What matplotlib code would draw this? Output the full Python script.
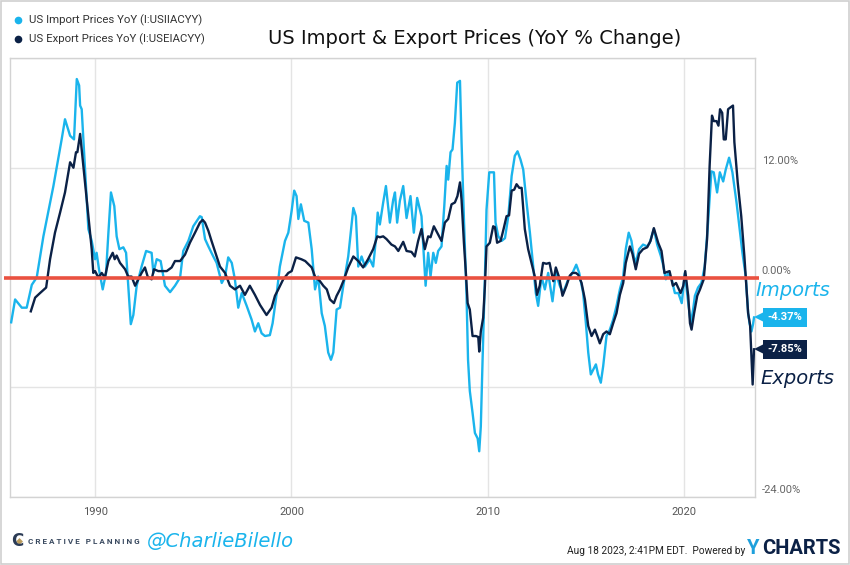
import matplotlib
matplotlib.use("Agg")
import matplotlib.pyplot as plt
import matplotlib.transforms as mtransforms
from matplotlib.patches import Rectangle
from matplotlib.lines import Line2D

# ---------------- data (decimal year, YoY %) ----------------
import_dates = [1985.73, 1985.93, 1986.27, 1986.52, 1986.78, 1987.03, 1987.37, 1987.88, 1988.30, 1988.47,
                1988.73, 1988.93, 1989.07, 1989.19, 1989.24, 1989.32, 1989.49, 1989.66, 1989.83, 1990.00,
                1990.08, 1990.20, 1990.39, 1990.56, 1990.68, 1990.81, 1990.98, 1991.10, 1991.24, 1991.44,
                1991.58, 1991.69, 1991.82, 1991.95, 1992.12, 1992.37, 1992.60, 1992.88, 1992.97, 1993.14,
                1993.34, 1993.56, 1993.82, 1994.07, 1994.33, 1994.49, 1994.75, 1995.00, 1995.34, 1995.43,
                1995.60, 1995.77, 1996.02, 1996.19, 1996.45, 1996.62, 1996.78, 1996.96, 1997.12, 1997.29,
                1997.47, 1997.72, 1997.97, 1998.14, 1998.31, 1998.48, 1998.65, 1998.90, 1999.04, 1999.25,
                1999.41, 1999.67, 1999.84, 2000.01, 2000.14, 2000.26, 2000.35, 2000.48, 2000.65, 2000.86,
                2001.03, 2001.20, 2001.36, 2001.54, 2001.70, 2001.87, 2002.01, 2002.13, 2002.30, 2002.47,
                2002.64, 2002.89, 2003.15, 2003.28, 2003.40, 2003.57, 2003.74, 2003.99, 2004.16, 2004.30,
                2004.39, 2004.50, 2004.67, 2004.81, 2005.01, 2005.18, 2005.27, 2005.38, 2005.52, 2005.69,
                2005.86, 2006.06, 2006.23, 2006.40, 2006.62, 2006.71, 2006.83, 2006.96, 2007.08, 2007.22,
                2007.35, 2007.47, 2007.64, 2007.78, 2007.90, 2007.98, 2008.10, 2008.20, 2008.32, 2008.44,
                2008.58, 2008.66, 2008.78, 2008.91, 2008.99, 2009.08, 2009.22, 2009.34, 2009.48, 2009.56,
                2009.64, 2009.73, 2009.85, 2009.93, 2010.07, 2010.31, 2010.39, 2010.53, 2010.70, 2010.87,
                2011.04, 2011.21, 2011.37, 2011.51, 2011.66, 2011.80, 2011.97, 2012.14, 2012.31, 2012.44,
                2012.56, 2012.73, 2012.90, 2013.07, 2013.29, 2013.46, 2013.66, 2013.83, 2014.09, 2014.31,
                2014.50, 2014.65, 2014.85, 2014.99, 2015.11, 2015.24, 2015.36, 2015.50, 2015.61, 2015.75,
                2015.87, 2016.04, 2016.21, 2016.38, 2016.55, 2016.72, 2016.89, 2017.02, 2017.17, 2017.31,
                2017.43, 2017.53, 2017.70, 2017.90, 2018.11, 2018.24, 2018.45, 2018.62, 2018.80, 2018.90,
                2019.06, 2019.18, 2019.36, 2019.52, 2019.70, 2019.87, 2020.03, 2020.20, 2020.33, 2020.45,
                2020.54, 2020.70, 2020.87, 2021.04, 2021.21, 2021.38, 2021.50, 2021.67, 2021.81, 2021.98,
                2022.11, 2022.28, 2022.45, 2022.66, 2022.82, 2022.96, 2023.13, 2023.25, 2023.33, 2023.42,
                2023.50, 2023.55]
import_values = [-4.9, -2.4, -3.3, -3.3, -0.8, 0.0, 4.5, 10.0, 15.1, 17.3,
                 15.5, 15.1, 21.7, 21.0, 18.8, 18.4, 11.8, 5.3, 4.0, 2.0,
                 2.7, 0.9, -1.3, 0.5, 4.9, 9.3, 7.8, 4.5, 3.1, 3.3,
                 2.7, -0.9, -5.1, -4.1, -0.9, 1.2, 2.9, 2.7, 0.5, 2.0,
                 1.8, -0.9, -1.6, -0.9, 0.0, 2.9, 4.0, 5.6, 6.7, 6.6,
                 4.2, 3.4, 2.3, 1.6, -0.6, 0.1, 2.2, 1.6, -0.2, -3.3,
                 -1.7, -3.1, -4.6, -5.9, -5.0, -6.1, -6.4, -6.3, -5.0, -1.7,
                 1.2, 4.0, 4.9, 7.3, 9.5, 8.9, 6.4, 8.0, 6.2, 6.0,
                 3.1, -1.3, 0.1, -3.9, -5.3, -8.2, -9.0, -8.2, -3.5, -3.3,
                 -0.9, 2.3, 7.6, 6.7, 1.2, 2.3, 1.2, 2.0, 1.2, 4.2,
                 7.1, 5.8, 8.2, 10.0, 6.0, 8.5, 9.3, 6.0, 8.4, 10.0,
                 6.5, 8.9, 4.9, 8.7, 6.7, 3.4, -0.9, 2.7, 0.1, 2.7,
                 1.6, 2.9, 3.4, 7.8, 12.2, 10.7, 13.7, 14.0, 16.9, 21.3,
                 21.5, 14.8, 6.4, -1.7, -9.0, -12.4, -14.8, -17.0, -17.6, -19.0,
                 -16.3, -9.0, 0.1, 7.4, 11.5, 11.5, 6.0, 4.5, 4.0, 4.3,
                 6.7, 11.1, 13.3, 13.8, 12.9, 11.8, 8.2, 4.9, 1.2, -1.7,
                 -3.1, 0.1, -1.3, 0.5, -2.6, 0.5, -0.9, -1.7, -0.2, 0.5,
                 1.4, 0.5, -1.7, -5.0, -8.2, -10.6, -10.1, -9.5, -10.6, -11.5,
                 -9.7, -6.4, -5.7, -4.6, -3.1, -1.3, 0.1, 3.1, 4.9, 4.0,
                 2.3, 1.6, 3.1, 3.6, 3.4, 3.8, 5.3, 3.6, 2.4, 1.6,
                 -0.2, 0.5, -0.2, -1.7, -1.7, -2.8, 0.5, -2.8, -5.0, -3.5,
                 -2.0, -1.1, -0.6, 1.2, 6.0, 11.6, 11.5, 9.3, 11.5, 10.5,
                 11.8, 13.1, 11.5, 8.2, 5.3, 2.7, 0.1, -3.9, -5.1, -5.9,
                 -5.1, -4.37]

export_dates = [1986.73, 1986.95, 1987.20, 1987.51, 1987.71, 1987.96, 1988.22, 1988.47, 1988.73, 1988.90,
                1989.03, 1989.10, 1989.24, 1989.32, 1989.49, 1989.66, 1989.83, 1989.91, 1990.00, 1990.17,
                1990.34, 1990.50, 1990.68, 1990.90, 1991.00, 1991.10, 1991.27, 1991.53, 1991.69, 1991.86,
                1992.04, 1992.20, 1992.37, 1992.54, 1992.68, 1992.88, 1993.00, 1993.22, 1993.65, 1993.90,
                1994.07, 1994.33, 1994.58, 1994.83, 1995.09, 1995.34, 1995.48, 1995.60, 1995.77, 1995.93,
                1996.10, 1996.36, 1996.62, 1996.87, 1997.12, 1997.38, 1997.63, 1997.88, 1998.14, 1998.40,
                1998.73, 1998.99, 1999.16, 1999.33, 1999.58, 1999.84, 2000.01, 2000.23, 2000.50, 2000.70,
                2001.03, 2001.20, 2001.45, 2001.62, 2001.80, 2001.96, 2002.16, 2002.30, 2002.47, 2002.64,
                2002.89, 2003.15, 2003.40, 2003.65, 2003.90, 2004.16, 2004.37, 2004.50, 2004.67, 2004.84,
                2005.09, 2005.27, 2005.44, 2005.69, 2005.86, 2006.11, 2006.28, 2006.45, 2006.62, 2006.79,
                2006.96, 2007.08, 2007.25, 2007.42, 2007.64, 2007.81, 2007.98, 2008.15, 2008.32, 2008.45,
                2008.58, 2008.66, 2008.78, 2008.88, 2008.97, 2009.08, 2009.22, 2009.39, 2009.51, 2009.56,
                2009.64, 2009.76, 2009.85, 2009.93, 2010.10, 2010.27, 2010.36, 2010.47, 2010.65, 2010.81,
                2010.95, 2011.08, 2011.21, 2011.34, 2011.46, 2011.60, 2011.72, 2011.88, 2012.05, 2012.22,
                2012.39, 2012.50, 2012.64, 2012.81, 2012.98, 2013.14, 2013.33, 2013.46, 2013.63, 2013.80,
                2014.00, 2014.17, 2014.30, 2014.48, 2014.60, 2014.77, 2014.94, 2015.11, 2015.28, 2015.45,
                2015.57, 2015.70, 2015.87, 2016.04, 2016.21, 2016.38, 2016.55, 2016.72, 2016.89, 2017.02,
                2017.23, 2017.36, 2017.53, 2017.70, 2017.90, 2018.11, 2018.28, 2018.45, 2018.67, 2018.84,
                2018.99, 2019.25, 2019.42, 2019.58, 2019.81, 2019.95, 2020.05, 2020.20, 2020.29, 2020.37,
                2020.50, 2020.66, 2020.80, 2020.99, 2021.16, 2021.29, 2021.41, 2021.50, 2021.64, 2021.74,
                2021.82, 2021.93, 2022.01, 2022.11, 2022.23, 2022.35, 2022.48, 2022.55, 2022.72, 2022.90,
                2023.06, 2023.16, 2023.25, 2023.35, 2023.42, 2023.48, 2023.55]
export_values = [-3.7, -2.2, -1.7, -1.1, 2.0, 4.9, 7.1, 9.3, 12.6, 12.0,
                 13.7, 13.7, 15.7, 14.0, 10.4, 6.7, 3.1, 0.5, 0.7, 0.0,
                 0.5, 0.0, 1.8, 2.7, 2.0, 2.4, 1.6, 0.9, 0.1, 0.1,
                 -0.9, -0.2, 0.5, 1.1, 0.1, -0.2, 0.9, 0.7, 0.7, 1.1,
                 1.8, 1.8, 2.5, 3.8, 4.9, 6.0, 6.3, 6.0, 5.1, 4.0,
                 2.9, 1.2, 0.5, -0.9, -1.3, -0.9, -1.9, -0.9, -1.9, -3.0,
                 -4.1, -3.3, -2.0, -1.3, -0.2, 0.5, 0.7, 2.2, 2.0, 1.8,
                 1.1, 0.1, -0.4, -0.9, -1.3, -2.4, -2.8, -2.0, -1.3, -0.4,
                 1.1, 2.3, 1.8, 1.1, 2.0, 3.1, 4.5, 4.4, 4.5, 4.2,
                 3.6, 3.4, 2.9, 3.9, 2.9, 2.8, 2.3, 4.0, 5.3, 3.1,
                 4.5, 4.4, 5.6, 4.9, 4.0, 6.0, 6.4, 8.0, 8.2, 8.9,
                 10.4, 8.5, 3.8, 0.5, -2.8, -3.5, -6.4, -6.4, -6.5, -8.1,
                 -5.9, -4.4, -0.9, 3.4, 3.8, 5.6, 5.5, 3.8, 4.0, 5.4,
                 6.7, 6.8, 9.5, 9.6, 10.2, 9.8, 9.8, 5.3, 3.1, 1.6,
                 0.1, -1.9, -0.9, 1.6, 1.5, 1.6, -0.4, 1.1, 0.0, -2.0,
                 -0.9, 0.2, 0.5, 0.5, 0.3, -0.6, -2.4, -5.3, -6.4, -5.7,
                 -6.4, -7.2, -6.2, -5.9, -6.2, -5.0, -3.9, -1.9, -0.6, 1.6,
                 3.4, 2.6, 0.9, 2.6, 3.1, 3.3, 4.0, 5.4, 3.8, 2.9,
                 0.5, 0.7, -0.9, -0.6, -1.7, -0.9, 0.7, -2.0, -5.0, -5.7,
                 -3.9, -2.0, -1.3, -0.2, 4.2, 12.2, 17.7, 17.1, 17.1, 16.6,
                 18.4, 18.0, 15.1, 15.1, 18.4, 18.6, 18.8, 14.8, 10.4, 6.7,
                 2.3, -1.0, -3.9, -5.2, -8.6, -11.7, -7.85]

series_names = ["US Import Prices YoY (I:USIIACYY)", "US Export Prices YoY (I:USEIACYY)"]
x_ticks = [1990, 2000, 2010, 2020]
y_ticks = [-24, -12, 0, 12, 24]
y_tick_labels = ["-24.00%", "", "0.00%", "12.00%", ""]
last_import = import_values[-1]
last_export = export_values[-1]

# ---------------- style ----------------
C_IMP = "#1ab4ec"
C_EXP = "#0b2146"
C_RED = "#ea5140"
FONT = "Roboto"

fig = plt.figure(figsize=(8.5, 5.65), dpi=100)
fig.patch.set_facecolor("white")
fig.patches.append(Rectangle((0.0008, 0.001), 0.998, 0.997, transform=fig.transFigure,
                             fill=False, edgecolor="#cfcfcf", lw=1.2))

ax = fig.add_axes([10/850, 68/565, 745/850, 439/565])
ax.set_xlim(1985.67, 2023.6)
ax.set_ylim(-24, 24)

for s in ax.spines.values():
    s.set_color("#d3d3d3")
    s.set_linewidth(1.0)

ax.set_xticks(x_ticks)
ax.set_xticklabels([str(t) for t in x_ticks], fontfamily=FONT, fontsize=8, color="#555555")
ax.tick_params(axis="x", length=0, pad=7)
ax.set_yticks(y_ticks)
ax.set_yticklabels([])
ax.tick_params(axis="y", length=0)
ax.grid(True, color="#e4e4e4", lw=1.0)
ax.set_axisbelow(True)

ax.plot(import_dates, import_values, color=C_IMP, lw=1.7, zorder=3, solid_joinstyle="round")
ax.plot(export_dates, export_values, color=C_EXP, lw=1.7, zorder=4, solid_joinstyle="round")

blend = mtransforms.blended_transform_factory(ax.transAxes, ax.transData)
ax.plot([-0.008, 1.005], [0, 0], transform=blend, color=C_RED, lw=2.6, zorder=5, clip_on=False,
        solid_capstyle="butt")

# right-side tick labels (slightly above gridlines)
off = mtransforms.ScaledTranslation(0, 5/72, fig.dpi_scale_trans)
for v, lab in zip(y_ticks, y_tick_labels):
    if lab:
        ax.text(1.009, v, lab, transform=blend + off, ha="left", va="center",
                fontfamily=FONT, fontsize=8, color="#666666")

# last value tags
for val, col in [(last_import, C_IMP), (last_export, C_EXP)]:
    ax.plot([1.006], [val], transform=blend, marker="<", ms=7.5, color=col, clip_on=False, zorder=6,
            markeredgewidth=0)
    ax.text(1.017, val, f"{val:.2f}%", transform=blend, ha="left", va="center",
            fontfamily=FONT, fontsize=8, fontweight="bold", color="white", zorder=7,
            bbox=dict(boxstyle="square,pad=0.42", fc=col, ec="none"))

ax.text(1.0, -1.4, "Imports", transform=blend, ha="left", va="center", fontsize=14,
        fontstyle="italic", fontfamily="DejaVu Sans", color=C_IMP)
ax.text(1.007, -11.0, "Exports", transform=blend, ha="left", va="center", fontsize=14,
        fontstyle="italic", fontfamily="DejaVu Sans", color=C_EXP)

# legend
for i, (name, col) in enumerate(zip(series_names, [C_IMP, C_EXP])):
    y = 1 - (20 + 19 * i) / 565
    fig.add_artist(Line2D([18/850], [y], marker="o", ms=5.5, color=col, markeredgewidth=0,
                          transform=fig.transFigure))
    fig.text(29/850, y, name, color="#333333", fontsize=8.2, fontfamily=FONT, ha="left", va="center")

# title
fig.text(475/850, 1 - 38/565, "US Import & Export Prices (YoY % Change)", ha="center", va="center",
         fontsize=14, fontfamily="DejaVu Sans", color="#111111")

# footer
fig.text(11/850, 1 - 541/565, "C", fontsize=12, fontweight="bold", color="#2b3b55", ha="left",
         va="center", fontfamily="DejaVu Sans")
fig.add_artist(Line2D([18.5/850], [1 - 541/565], marker="D", ms=3.5, color="#b99a5b",
                      markeredgewidth=0, transform=fig.transFigure))
fig.text(28/850, 1 - 541/565, "C R E A T I V E   P L A N N I N G", fontsize=5.9, fontweight="bold",
         color="#3a4a60", ha="left", va="center", fontfamily=FONT)
fig.text(147/850, 1 - 541/565, "@CharlieBilello", fontsize=14, fontstyle="italic", color=C_IMP,
         ha="left", va="center", fontfamily="DejaVu Sans")
fig.text(745/850, 1 - 551/565, "Aug 18 2023, 2:41PM EDT.  Powered by", fontsize=7.3, color="#222222",
         ha="right", va="center", fontfamily=FONT)
fig.text(747/850, 1 - 549/565, "Y", fontsize=14.5, fontweight="bold", color="#1ea0dc", ha="left",
         va="center", fontfamily=FONT)
fig.text(762/850, 1 - 549/565, "CHARTS", fontsize=14.5, fontweight="bold", color="#0b2146", ha="left",
         va="center", fontfamily=FONT)

fig.savefig("out.png", dpi=100)
